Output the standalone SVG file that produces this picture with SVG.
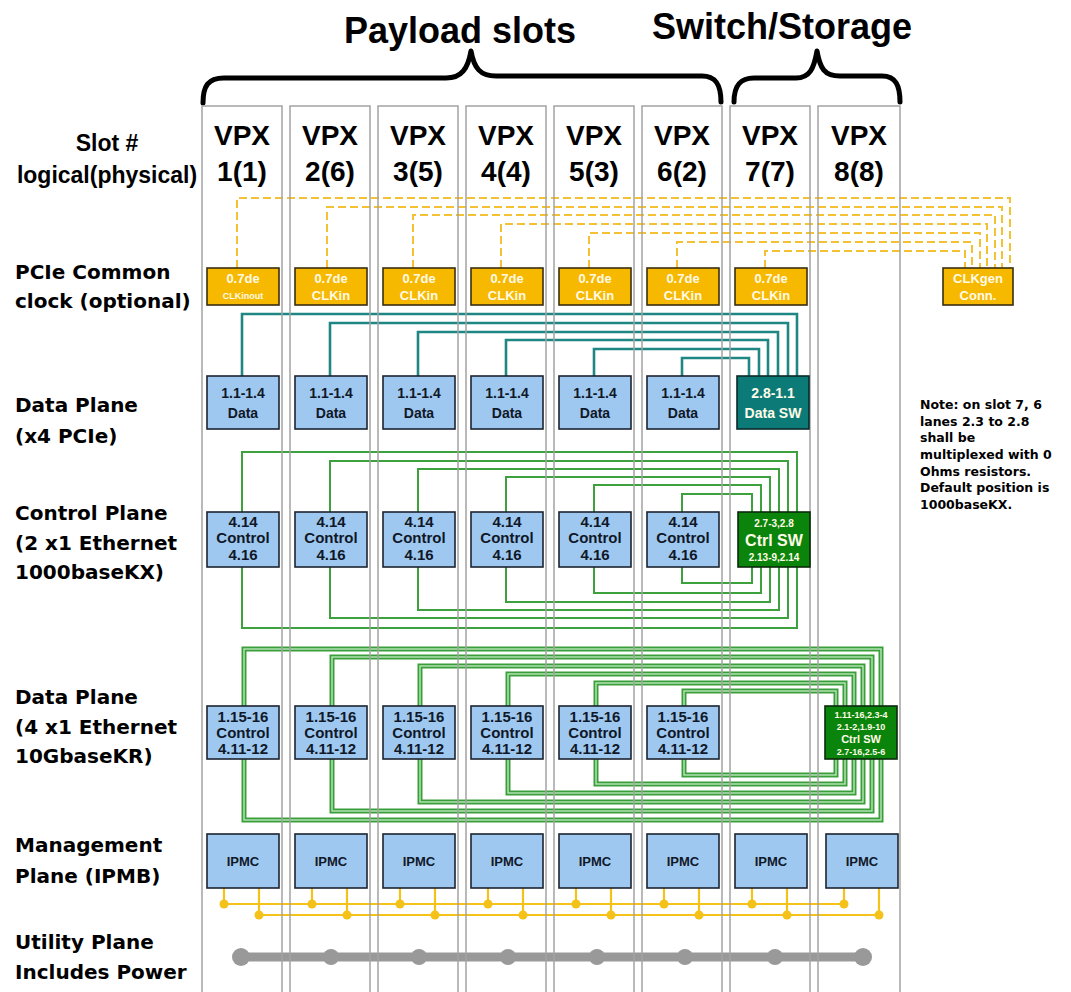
<svg xmlns="http://www.w3.org/2000/svg" width="1071" height="992" viewBox="0 0 1071 992">
  <style>
    .title { font-family: "Liberation Sans", Arial, sans-serif; font-weight: bold; font-size: 36px; fill: #000; text-anchor: middle; }
    .slot { font-family: "Liberation Sans", Arial, sans-serif; font-weight: bold; font-size: 28px; fill: #000; text-anchor: middle; }
    .slothdr { font-family: "Liberation Sans", Arial, sans-serif; font-weight: bold; font-size: 23px; fill: #000; text-anchor: middle; }
    .row { font-family: "DejaVu Sans", Verdana, sans-serif; font-weight: bold; font-size: 20px; fill: #000; }
    .note { font-family: "DejaVu Sans", Verdana, sans-serif; font-weight: bold; font-size: 12.5px; fill: #000; }
    .col { fill: none; stroke: #a3a3a3; stroke-width: 1.5; }
    .brace { fill: none; stroke: #000; stroke-width: 5; stroke-linecap: round; stroke-linejoin: round; }
    .blue { fill: #9fc8f0; stroke: #1c2430; stroke-width: 1.6; }
    .clk { fill: #f7b800; stroke: #3a2e10; stroke-width: 1.6; }
    .teal { fill: #0c7b78; stroke: #0a2a2a; stroke-width: 1.6; }
    .grn { fill: #0a840a; stroke: #0b2a0b; stroke-width: 1.6; }
    .bt { font-family: "Liberation Sans", Arial, sans-serif; font-weight: bold; fill: #0f1828; text-anchor: middle; }
    .wt { font-family: "Liberation Sans", Arial, sans-serif; font-weight: bold; fill: #fffbe8; text-anchor: middle; }
    .clkline { fill: none; stroke: #f4c134; stroke-width: 2; stroke-dasharray: 8 4; }
    .pcie { fill: none; stroke: #1f8783; stroke-width: 2.6; }
    .ctl { fill: none; stroke: #3da23d; stroke-width: 2; }
    .kr { fill: none; stroke: #3a9f3a; stroke-width: 5; }
    .krcore { fill: none; stroke: #b9e6b9; stroke-width: 1.4; }
    .ipmb { fill: none; stroke: #f5c21a; stroke-width: 2.2; }
    .dot { fill: #f5c21a; }
    .util { fill: none; stroke: #999; stroke-width: 9; stroke-linecap: round; }
    .udot { fill: #999; }
  </style>

  <rect width="1071" height="992" fill="#fff"/>

  <!-- headings and braces -->
  <g id="headings">
    <text class="title" x="460" y="43">Payload slots</text>
    <text class="title" x="782" y="39">Switch/Storage</text>
    <path class="brace" d="M203,103 C203,86 208,78 224,78 L446,78 C462,78 468,68 471,51 C474,68 480,76 496,76 L702,76 C716,76 721,85 721,102"/>
    <path class="brace" d="M734,102 C734,86 740,78 754,78 L796,78 C810,78 814,68 817,51 C820,68 824,76 840,76 L882,76 C896,76 900,86 900,102"/>
  </g>

  <!-- row captions -->
  <g id="row-labels">
    <text class="slothdr" x="107" y="151">Slot #</text>
    <text class="slothdr" x="107" y="183">logical(physical)</text>
    <text class="row" x="15" y="279">PCIe Common</text>
    <text class="row" x="15" y="308">clock (optional)</text>
    <text class="row" x="15" y="412">Data Plane</text>
    <text class="row" x="15" y="443">(x4 PCIe)</text>
    <text class="row" x="15" y="520">Control Plane</text>
    <text class="row" x="15" y="550">(2 x1 Ethernet</text>
    <text class="row" x="15" y="579">1000baseKX)</text>
    <text class="row" x="15" y="704">Data Plane</text>
    <text class="row" x="15" y="734">(4 x1 Ethernet</text>
    <text class="row" x="15" y="763">10GbaseKR)</text>
    <text class="row" x="15" y="852">Management</text>
    <text class="row" x="15" y="883">Plane (IPMB)</text>
    <text class="row" x="15" y="949">Utility Plane</text>
    <text class="row" x="15" y="979">Includes Power</text>
  </g>

  <g id="note">
    <text class="note" x="920" y="409">Note: on slot 7, 6</text>
    <text class="note" x="920" y="426">lanes 2.3 to 2.8</text>
    <text class="note" x="920" y="442">shall be</text>
    <text class="note" x="920" y="459">multiplexed with 0</text>
    <text class="note" x="920" y="476">Ohms resistors.</text>
    <text class="note" x="920" y="492">Default position is</text>
    <text class="note" x="920" y="509">1000baseKX.</text>
  </g>

  <!-- connectors -->
  <g id="connectors">
    <!-- PCIe common clock, dashed -->
    <path class="clkline" d="M237,268 V198 H1010 V268"/>
    <path class="clkline" d="M327,268 V207 H1002 V268"/>
    <path class="clkline" d="M413,268 V215 H995 V268"/>
    <path class="clkline" d="M501,268 V224 H987 V268"/>
    <path class="clkline" d="M589,268 V233 H980 V268"/>
    <path class="clkline" d="M677,268 V242 H972 V268"/>
    <path class="clkline" d="M765,268 V251 H965 V268"/>

    <!-- PCIe data plane to Data SW -->
    <path class="pcie" d="M242,376 V314 H797 V376"/>
    <path class="pcie" d="M330,376 V323 H788 V376"/>
    <path class="pcie" d="M418,376 V332 H778 V376"/>
    <path class="pcie" d="M506,376 V340 H768 V376"/>
    <path class="pcie" d="M594,376 V349 H759 V376"/>
    <path class="pcie" d="M682,376 V358 H749 V376"/>

    <!-- 1000baseKX control plane loops -->
    <rect class="ctl" x="242" y="452" width="555" height="176"/>
    <rect class="ctl" x="330" y="461" width="458" height="157"/>
    <rect class="ctl" x="418" y="469" width="361" height="141"/>
    <rect class="ctl" x="506" y="477" width="264" height="125"/>
    <rect class="ctl" x="594" y="485" width="167" height="108"/>
    <rect class="ctl" x="682" y="494" width="70" height="89"/>

    <!-- 10GbaseKR loops to slot 8 switch -->
    <rect class="kr" x="244" y="649" width="637" height="171"/>
    <rect class="kr" x="332" y="657" width="540" height="154"/>
    <rect class="kr" x="420" y="666" width="443" height="136"/>
    <rect class="kr" x="508" y="674" width="346" height="119"/>
    <rect class="kr" x="596" y="683" width="249" height="101"/>
    <rect class="kr" x="684" y="691" width="152" height="84"/>
    <rect class="krcore" x="244" y="649" width="637" height="171"/>
    <rect class="krcore" x="332" y="657" width="540" height="154"/>
    <rect class="krcore" x="420" y="666" width="443" height="136"/>
    <rect class="krcore" x="508" y="674" width="346" height="119"/>
    <rect class="krcore" x="596" y="683" width="249" height="101"/>
    <rect class="krcore" x="684" y="691" width="152" height="84"/>

    <!-- IPMB buses -->
    <path class="ipmb" d="M224,888 V904 M312,888 V904 M400,888 V904 M488,888 V904 M576,888 V904 M664,888 V904 M752,888 V904 M844,888 V904 M224,904 H844"/>
    <path class="ipmb" d="M259,888 V915 M347,888 V915 M435,888 V915 M523,888 V915 M611,888 V915 M699,888 V915 M787,888 V915 M879,888 V915 M259,915 H879"/>
    <g>
      <circle class="dot" cx="224" cy="904" r="4.5"/><circle class="dot" cx="312" cy="904" r="4.5"/>
      <circle class="dot" cx="400" cy="904" r="4.5"/><circle class="dot" cx="488" cy="904" r="4.5"/>
      <circle class="dot" cx="576" cy="904" r="4.5"/><circle class="dot" cx="664" cy="904" r="4.5"/>
      <circle class="dot" cx="752" cy="904" r="4.5"/><circle class="dot" cx="844" cy="904" r="4.5"/>
      <circle class="dot" cx="259" cy="915" r="4.5"/><circle class="dot" cx="347" cy="915" r="4.5"/>
      <circle class="dot" cx="435" cy="915" r="4.5"/><circle class="dot" cx="523" cy="915" r="4.5"/>
      <circle class="dot" cx="611" cy="915" r="4.5"/><circle class="dot" cx="699" cy="915" r="4.5"/>
      <circle class="dot" cx="787" cy="915" r="4.5"/><circle class="dot" cx="879" cy="915" r="4.5"/>
    </g>

    <!-- utility / power bus -->
    <path class="util" d="M241,957 H863"/>
    <g>
      <circle class="udot" cx="241" cy="957" r="9"/><circle class="udot" cx="331" cy="957" r="8"/>
      <circle class="udot" cx="419" cy="957" r="8"/><circle class="udot" cx="508" cy="957" r="8"/>
      <circle class="udot" cx="597" cy="957" r="8"/><circle class="udot" cx="685" cy="957" r="8"/>
      <circle class="udot" cx="775" cy="957" r="8"/><circle class="udot" cx="863" cy="957" r="9"/>
    </g>
  </g>

  <!-- slot columns -->
  <g id="slots">
    <rect class="col" x="202" y="106" width="80" height="900"/>
    <rect class="col" x="290" y="106" width="80" height="900"/>
    <rect class="col" x="378" y="106" width="80" height="900"/>
    <rect class="col" x="466" y="106" width="80" height="900"/>
    <rect class="col" x="554" y="106" width="80" height="900"/>
    <rect class="col" x="642" y="106" width="80" height="900"/>
    <rect class="col" x="730" y="106" width="80" height="900"/>
    <rect class="col" x="818" y="106" width="82" height="900"/>
    <text class="slot" x="242" y="145">VPX</text><text class="slot" x="242" y="181">1(1)</text>
    <text class="slot" x="330" y="145">VPX</text><text class="slot" x="330" y="181">2(6)</text>
    <text class="slot" x="418" y="145">VPX</text><text class="slot" x="418" y="181">3(5)</text>
    <text class="slot" x="506" y="145">VPX</text><text class="slot" x="506" y="181">4(4)</text>
    <text class="slot" x="594" y="145">VPX</text><text class="slot" x="594" y="181">5(3)</text>
    <text class="slot" x="682" y="145">VPX</text><text class="slot" x="682" y="181">6(2)</text>
    <text class="slot" x="770" y="145">VPX</text><text class="slot" x="770" y="181">7(7)</text>
    <text class="slot" x="859" y="145">VPX</text><text class="slot" x="859" y="181">8(8)</text>
  </g>

  <!-- PCIe common clock nodes -->
  <g id="clk1"><rect class="clk" x="207" y="268" width="72" height="37"/><text class="wt" x="243" y="283" font-size="13">0.7de</text><text class="wt" x="243" y="299" font-size="9">CLKinout</text></g>
  <g id="clk2"><rect class="clk" x="295" y="268" width="72" height="37"/><text class="wt" x="331" y="283" font-size="13">0.7de</text><text class="wt" x="331" y="300" font-size="13">CLKin</text></g>
  <g id="clk3"><rect class="clk" x="383" y="268" width="72" height="37"/><text class="wt" x="419" y="283" font-size="13">0.7de</text><text class="wt" x="419" y="300" font-size="13">CLKin</text></g>
  <g id="clk4"><rect class="clk" x="471" y="268" width="72" height="37"/><text class="wt" x="507" y="283" font-size="13">0.7de</text><text class="wt" x="507" y="300" font-size="13">CLKin</text></g>
  <g id="clk5"><rect class="clk" x="559" y="268" width="72" height="37"/><text class="wt" x="595" y="283" font-size="13">0.7de</text><text class="wt" x="595" y="300" font-size="13">CLKin</text></g>
  <g id="clk6"><rect class="clk" x="647" y="268" width="72" height="37"/><text class="wt" x="683" y="283" font-size="13">0.7de</text><text class="wt" x="683" y="300" font-size="13">CLKin</text></g>
  <g id="clk7"><rect class="clk" x="735" y="268" width="72" height="37"/><text class="wt" x="771" y="283" font-size="13">0.7de</text><text class="wt" x="771" y="300" font-size="13">CLKin</text></g>
  <g id="clkgen"><rect class="clk" x="943" y="268" width="70" height="37"/><text class="wt" x="978" y="283" font-size="13">CLKgen</text><text class="wt" x="978" y="300" font-size="13">Conn.</text></g>

  <!-- data plane (x4 PCIe) nodes -->
  <g id="data1"><rect class="blue" x="207" y="376" width="72" height="53"/><text class="bt" x="243" y="398" font-size="14">1.1-1.4</text><text class="bt" x="243" y="418" font-size="14">Data</text></g>
  <g id="data2"><rect class="blue" x="295" y="376" width="72" height="53"/><text class="bt" x="331" y="398" font-size="14">1.1-1.4</text><text class="bt" x="331" y="418" font-size="14">Data</text></g>
  <g id="data3"><rect class="blue" x="383" y="376" width="72" height="53"/><text class="bt" x="419" y="398" font-size="14">1.1-1.4</text><text class="bt" x="419" y="418" font-size="14">Data</text></g>
  <g id="data4"><rect class="blue" x="471" y="376" width="72" height="53"/><text class="bt" x="507" y="398" font-size="14">1.1-1.4</text><text class="bt" x="507" y="418" font-size="14">Data</text></g>
  <g id="data5"><rect class="blue" x="559" y="376" width="72" height="53"/><text class="bt" x="595" y="398" font-size="14">1.1-1.4</text><text class="bt" x="595" y="418" font-size="14">Data</text></g>
  <g id="data6"><rect class="blue" x="647" y="376" width="72" height="53"/><text class="bt" x="683" y="398" font-size="14">1.1-1.4</text><text class="bt" x="683" y="418" font-size="14">Data</text></g>
  <g id="datasw"><rect class="teal" x="737" y="376" width="72" height="53"/><text class="wt" x="773" y="398" font-size="14">2.8-1.1</text><text class="wt" x="773" y="418" font-size="14">Data SW</text></g>

  <!-- control plane (1000baseKX) nodes -->
  <g id="ctl1"><rect class="blue" x="207" y="512" width="72" height="55"/><text class="bt" x="243" y="527" font-size="15">4.14</text><text class="bt" x="243" y="543" font-size="15">Control</text><text class="bt" x="243" y="560" font-size="15">4.16</text></g>
  <g id="ctl2"><rect class="blue" x="295" y="512" width="72" height="55"/><text class="bt" x="331" y="527" font-size="15">4.14</text><text class="bt" x="331" y="543" font-size="15">Control</text><text class="bt" x="331" y="560" font-size="15">4.16</text></g>
  <g id="ctl3"><rect class="blue" x="383" y="512" width="72" height="55"/><text class="bt" x="419" y="527" font-size="15">4.14</text><text class="bt" x="419" y="543" font-size="15">Control</text><text class="bt" x="419" y="560" font-size="15">4.16</text></g>
  <g id="ctl4"><rect class="blue" x="471" y="512" width="72" height="55"/><text class="bt" x="507" y="527" font-size="15">4.14</text><text class="bt" x="507" y="543" font-size="15">Control</text><text class="bt" x="507" y="560" font-size="15">4.16</text></g>
  <g id="ctl5"><rect class="blue" x="559" y="512" width="72" height="55"/><text class="bt" x="595" y="527" font-size="15">4.14</text><text class="bt" x="595" y="543" font-size="15">Control</text><text class="bt" x="595" y="560" font-size="15">4.16</text></g>
  <g id="ctl6"><rect class="blue" x="647" y="512" width="72" height="55"/><text class="bt" x="683" y="527" font-size="15">4.14</text><text class="bt" x="683" y="543" font-size="15">Control</text><text class="bt" x="683" y="560" font-size="15">4.16</text></g>
  <g id="ctlsw"><rect class="grn" x="738" y="512" width="72" height="55"/><text class="wt" x="774" y="527" font-size="10">2.7-3,2.8</text><text class="wt" x="774" y="546" font-size="16">Ctrl SW</text><text class="wt" x="774" y="561" font-size="10">2.13-9,2.14</text></g>

  <!-- data plane (10GbaseKR) nodes -->
  <g id="kr1"><rect class="blue" x="207" y="706" width="72" height="53"/><text class="bt" x="243" y="722" font-size="15">1.15-16</text><text class="bt" x="243" y="738" font-size="15">Control</text><text class="bt" x="243" y="754" font-size="15">4.11-12</text></g>
  <g id="kr2"><rect class="blue" x="295" y="706" width="72" height="53"/><text class="bt" x="331" y="722" font-size="15">1.15-16</text><text class="bt" x="331" y="738" font-size="15">Control</text><text class="bt" x="331" y="754" font-size="15">4.11-12</text></g>
  <g id="kr3"><rect class="blue" x="383" y="706" width="72" height="53"/><text class="bt" x="419" y="722" font-size="15">1.15-16</text><text class="bt" x="419" y="738" font-size="15">Control</text><text class="bt" x="419" y="754" font-size="15">4.11-12</text></g>
  <g id="kr4"><rect class="blue" x="471" y="706" width="72" height="53"/><text class="bt" x="507" y="722" font-size="15">1.15-16</text><text class="bt" x="507" y="738" font-size="15">Control</text><text class="bt" x="507" y="754" font-size="15">4.11-12</text></g>
  <g id="kr5"><rect class="blue" x="559" y="706" width="72" height="53"/><text class="bt" x="595" y="722" font-size="15">1.15-16</text><text class="bt" x="595" y="738" font-size="15">Control</text><text class="bt" x="595" y="754" font-size="15">4.11-12</text></g>
  <g id="kr6"><rect class="blue" x="647" y="706" width="72" height="53"/><text class="bt" x="683" y="722" font-size="15">1.15-16</text><text class="bt" x="683" y="738" font-size="15">Control</text><text class="bt" x="683" y="754" font-size="15">4.11-12</text></g>
  <g id="krsw"><rect class="grn" x="825" y="706" width="72" height="53"/><text class="wt" x="861" y="718" font-size="9">1.11-16,2.3-4</text><text class="wt" x="861" y="730" font-size="9">2.1-2,1.9-10</text><text class="wt" x="861" y="743" font-size="11">Ctrl SW</text><text class="wt" x="861" y="755" font-size="9">2.7-16,2.5-6</text></g>

  <!-- management plane nodes -->
  <g id="ipmc1"><rect class="blue" x="207" y="834" width="72" height="54"/><text class="bt" x="243" y="866" font-size="13">IPMC</text></g>
  <g id="ipmc2"><rect class="blue" x="295" y="834" width="72" height="54"/><text class="bt" x="331" y="866" font-size="13">IPMC</text></g>
  <g id="ipmc3"><rect class="blue" x="383" y="834" width="72" height="54"/><text class="bt" x="419" y="866" font-size="13">IPMC</text></g>
  <g id="ipmc4"><rect class="blue" x="471" y="834" width="72" height="54"/><text class="bt" x="507" y="866" font-size="13">IPMC</text></g>
  <g id="ipmc5"><rect class="blue" x="559" y="834" width="72" height="54"/><text class="bt" x="595" y="866" font-size="13">IPMC</text></g>
  <g id="ipmc6"><rect class="blue" x="647" y="834" width="72" height="54"/><text class="bt" x="683" y="866" font-size="13">IPMC</text></g>
  <g id="ipmc7"><rect class="blue" x="735" y="834" width="72" height="54"/><text class="bt" x="771" y="866" font-size="13">IPMC</text></g>
  <g id="ipmc8"><rect class="blue" x="826" y="834" width="72" height="54"/><text class="bt" x="862" y="866" font-size="13">IPMC</text></g>
</svg>
